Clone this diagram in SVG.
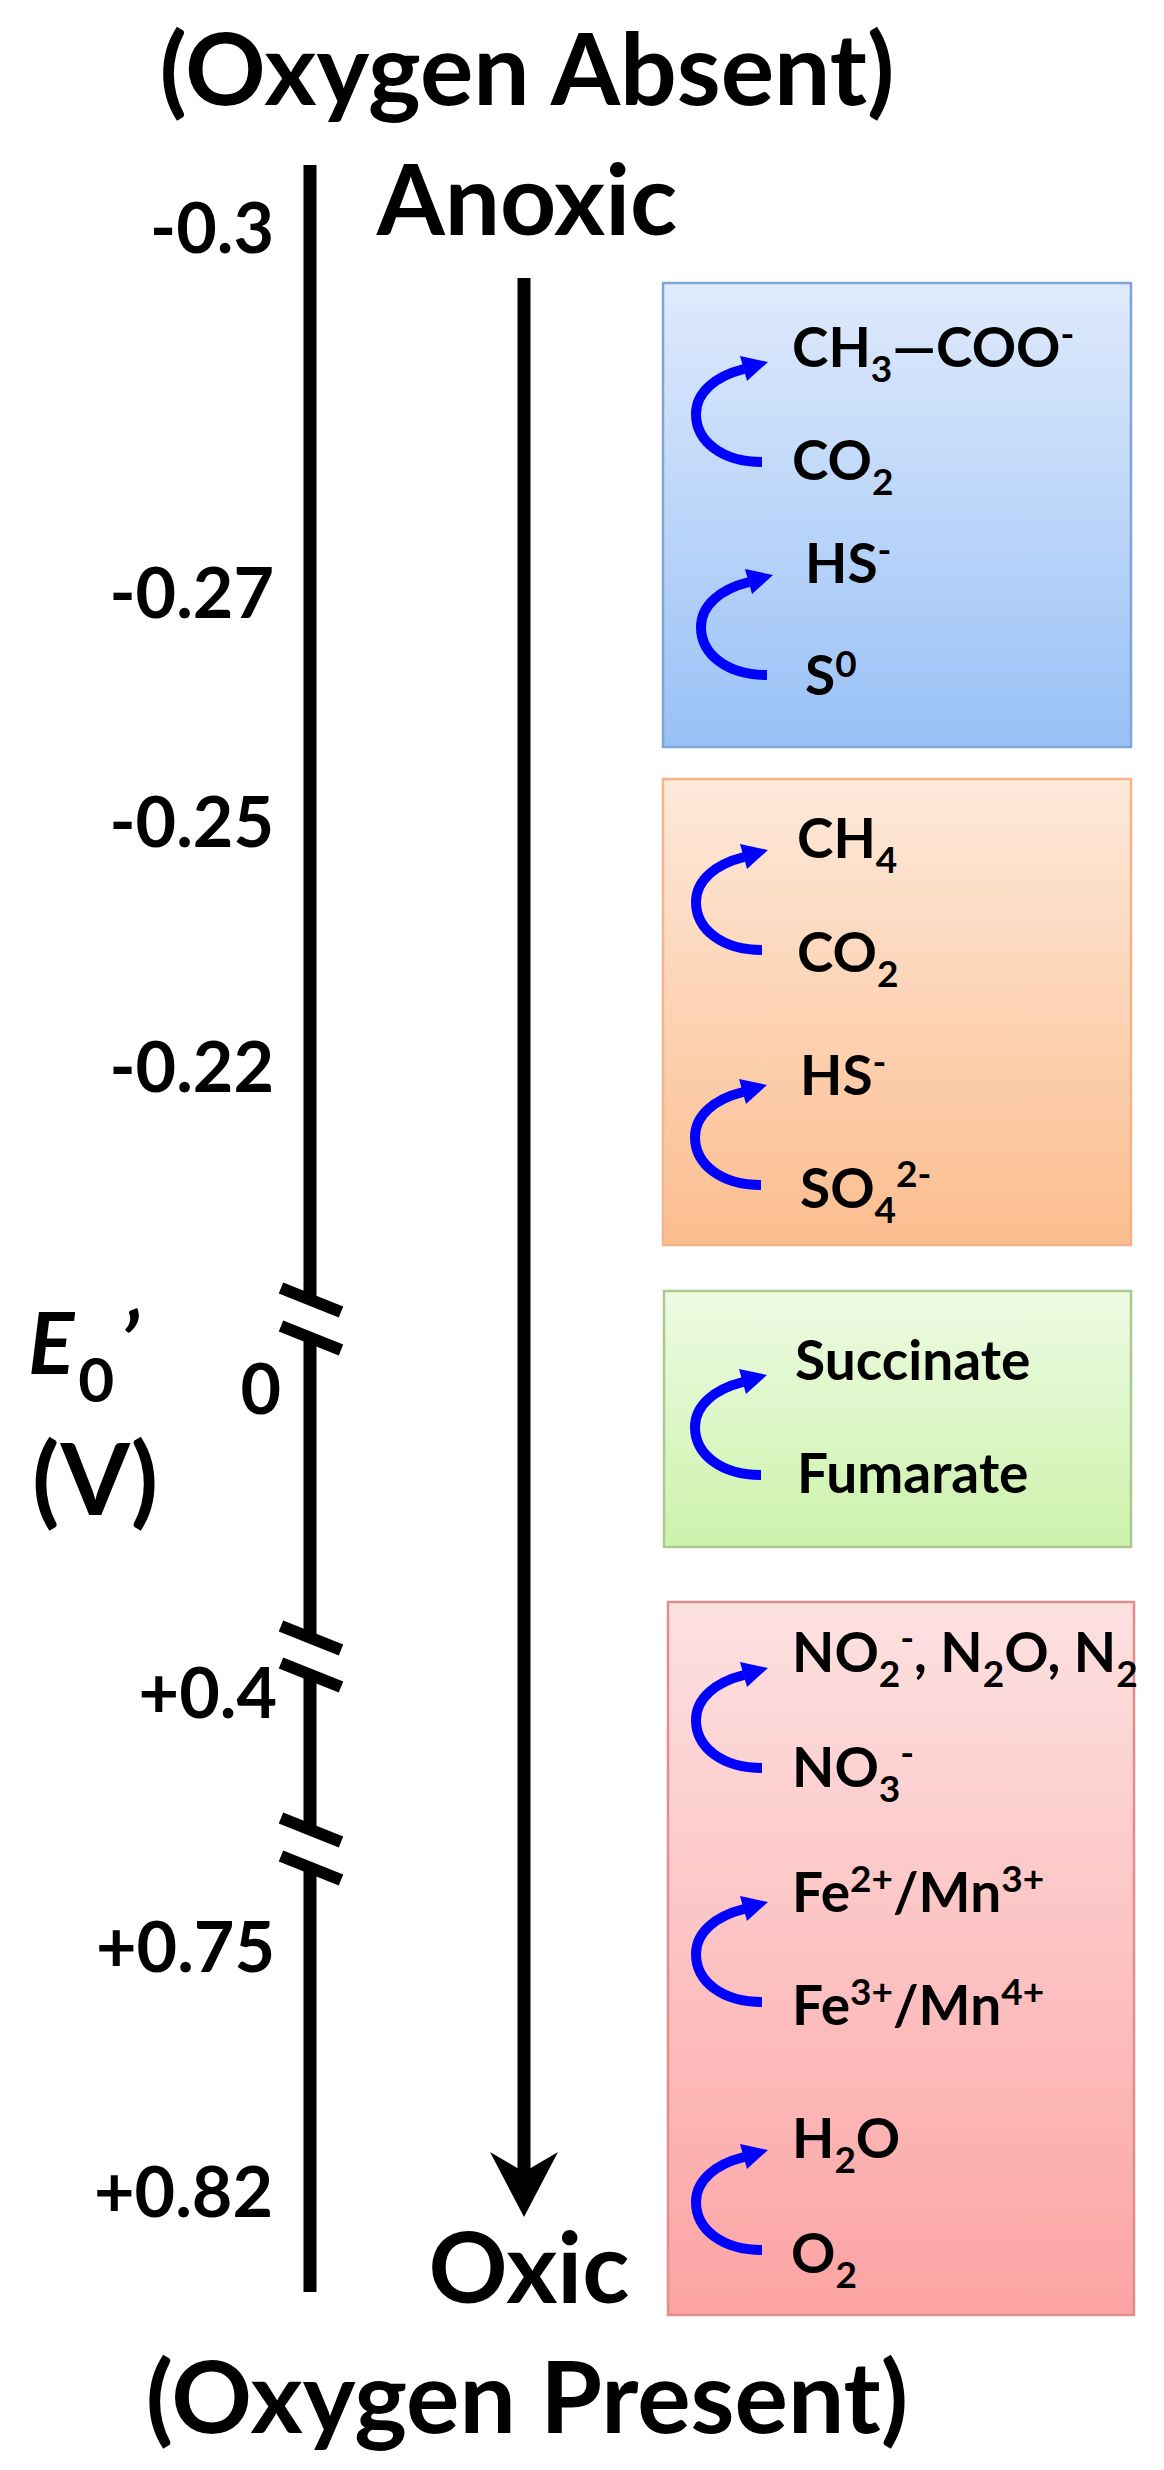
<svg xmlns="http://www.w3.org/2000/svg" width="1164" height="2470" viewBox="0 0 1164 2470">
<defs>
<style>
text{font-family:Lato,"Open Sans","Liberation Sans",sans-serif;font-weight:700;fill:#000}
.big{font-size:98px}
.ttl{font-size:100px}
.tick{font-size:70px;text-anchor:end}
.sp{font-size:55px}
.sub{font-size:37px}
.sup{font-size:37px}
.axis{stroke:#000;stroke-width:13;fill:none}
.brk{stroke:#000;stroke-width:12}
.redox{fill:none;stroke:#0000ff;stroke-width:10}
.box{stroke-width:2.5}
</style>
<linearGradient id="gBlue" x1="0" y1="0" x2="0" y2="1"><stop offset="0" stop-color="#dfeafc"/><stop offset="1" stop-color="#98c1f6"/></linearGradient>
<linearGradient id="gOrange" x1="0" y1="0" x2="0" y2="1"><stop offset="0" stop-color="#fde9da"/><stop offset="1" stop-color="#fbbd8e"/></linearGradient>
<linearGradient id="gGreen" x1="0" y1="0" x2="0" y2="1"><stop offset="0" stop-color="#edfbe3"/><stop offset="1" stop-color="#ccf2ab"/></linearGradient>
<linearGradient id="gRed" x1="0" y1="0" x2="0" y2="1"><stop offset="0" stop-color="#fde1e1"/><stop offset="1" stop-color="#fca3a3"/></linearGradient>
<g id="rx"><path class="redox" d="M -6 100 C -45 100 -72 80 -72 52 C -72 30 -52 14 -24 7"/><polygon points="0,0 -28,-6 -21,19" fill="#0000ff"/></g>
</defs>
<rect width="1164" height="2470" fill="#fff"/>

<g id="title-top"><text class="ttl" x="527" y="105" text-anchor="middle">(Oxygen Absent)</text></g>
<g id="label-anoxic"><text class="big" x="527" y="235" text-anchor="middle">Anoxic</text></g>
<g id="label-oxic"><text class="big" x="529" y="2303" text-anchor="middle">Oxic</text></g>
<g id="title-bottom"><text class="ttl" x="527" y="2433" text-anchor="middle">(Oxygen Present)</text></g>

<g id="axis">
<path class="axis" d="M310 165 V1300 M310 1338 V1638 M310 1675 V1830 M310 1868 V2292"/>
<line class="brk" x1="281" y1="1288" x2="341" y2="1312"/>
<line class="brk" x1="281" y1="1326" x2="341" y2="1350"/>
<line class="brk" x1="281" y1="1626" x2="341" y2="1650"/>
<line class="brk" x1="281" y1="1663" x2="341" y2="1687"/>
<line class="brk" x1="281" y1="1818" x2="341" y2="1842"/>
<line class="brk" x1="281" y1="1856" x2="341" y2="1880"/>
</g>

<g id="axis-title">
<text x="28" y="1374" font-size="86"><tspan font-style="italic">E</tspan><tspan font-size="62" dx="4" dy="28">0</tspan><tspan font-style="italic" dx="6" dy="-28">’</tspan></text>
<text x="32" y="1515" font-size="100">(V)</text>
</g>

<g id="axis-ticks">
<text class="tick" x="274" y="253">-0.3</text>
<text class="tick" x="274" y="618">-0.27</text>
<text class="tick" x="274" y="847">-0.25</text>
<text class="tick" x="274" y="1092">-0.22</text>
<text class="tick" x="281" y="1414">0</text>
<text class="tick" x="277" y="1718">+0.4</text>
<text class="tick" x="275" y="1972">+0.75</text>
<text class="tick" x="273" y="2217">+0.82</text>
</g>

<g id="box-blue">
<rect class="box" x="663" y="283" width="468" height="464" fill="url(#gBlue)" stroke="#7fa6d3"/>
<text class="sp" x="792" y="367">CH<tspan class="sub" dy="15">3</tspan><tspan dy="-15">—COO</tspan><tspan class="sup" dy="-20">-</tspan></text>
<text class="sp" x="792" y="480">CO<tspan class="sub" dy="15">2</tspan></text>
<text class="sp" x="805" y="583">HS<tspan class="sup" dy="-20">-</tspan></text>
<text class="sp" x="805" y="695">S<tspan class="sup" dy="-18">0</tspan></text>
</g>

<g id="box-orange">
<rect class="box" x="663" y="779" width="468" height="466" fill="url(#gOrange)" stroke="#f3b48a"/>
<text class="sp" x="797" y="858">CH<tspan class="sub" dy="15">4</tspan></text>
<text class="sp" x="797" y="972">CO<tspan class="sub" dy="15">2</tspan></text>
<text class="sp" x="800" y="1095">HS<tspan class="sup" dy="-20">-</tspan></text>
<text class="sp" x="800" y="1208">SO<tspan class="sub" dy="15">4</tspan><tspan class="sup" dy="-36">2-</tspan></text>
</g>

<g id="box-green">
<rect class="box" x="664" y="1291" width="467" height="256" fill="url(#gGreen)" stroke="#abc98f"/>
<text class="sp" x="795" y="1380">Succinate</text>
<text class="sp" x="797" y="1493">Fumarate</text>
</g>

<g id="box-red">
<rect class="box" x="668" y="1602" width="466" height="713" fill="url(#gRed)" stroke="#e38d8d"/>
<text class="sp" x="792" y="1672">NO<tspan class="sub" dy="15">2</tspan><tspan class="sup" dy="-36">-</tspan><tspan dy="21">, N</tspan><tspan class="sub" dy="15">2</tspan><tspan dy="-15">O, N</tspan><tspan class="sub" dy="15">2</tspan></text>
<text class="sp" x="792" y="1787">NO<tspan class="sub" dy="15">3</tspan><tspan class="sup" dy="-36">-</tspan></text>
<text class="sp" x="792" y="1912">Fe<tspan class="sup" dy="-20">2+</tspan><tspan dy="20">/Mn</tspan><tspan class="sup" dy="-20">3+</tspan></text>
<text class="sp" x="792" y="2025">Fe<tspan class="sup" dy="-20">3+</tspan><tspan dy="20">/Mn</tspan><tspan class="sup" dy="-20">4+</tspan></text>
<text class="sp" x="792" y="2158">H<tspan class="sub" dy="15">2</tspan><tspan dy="-15">O</tspan></text>
<text class="sp" x="791" y="2273">O<tspan class="sub" dy="15">2</tspan></text>
</g>

<g id="connectors">
<line x1="524" y1="278" x2="524" y2="2178" stroke="#000" stroke-width="13"/>
<polygon points="524,2217 490,2152 524,2172 558,2152" fill="#000"/>
<use href="#rx" x="768" y="362"/>
<use href="#rx" x="773" y="575"/>
<use href="#rx" x="768" y="850"/>
<use href="#rx" x="767" y="1085"/>
<use href="#rx" x="767" y="1375"/>
<use href="#rx" x="768" y="1668"/>
<use href="#rx" x="768" y="1902"/>
<use href="#rx" x="768" y="2150"/>
</g>
</svg>
